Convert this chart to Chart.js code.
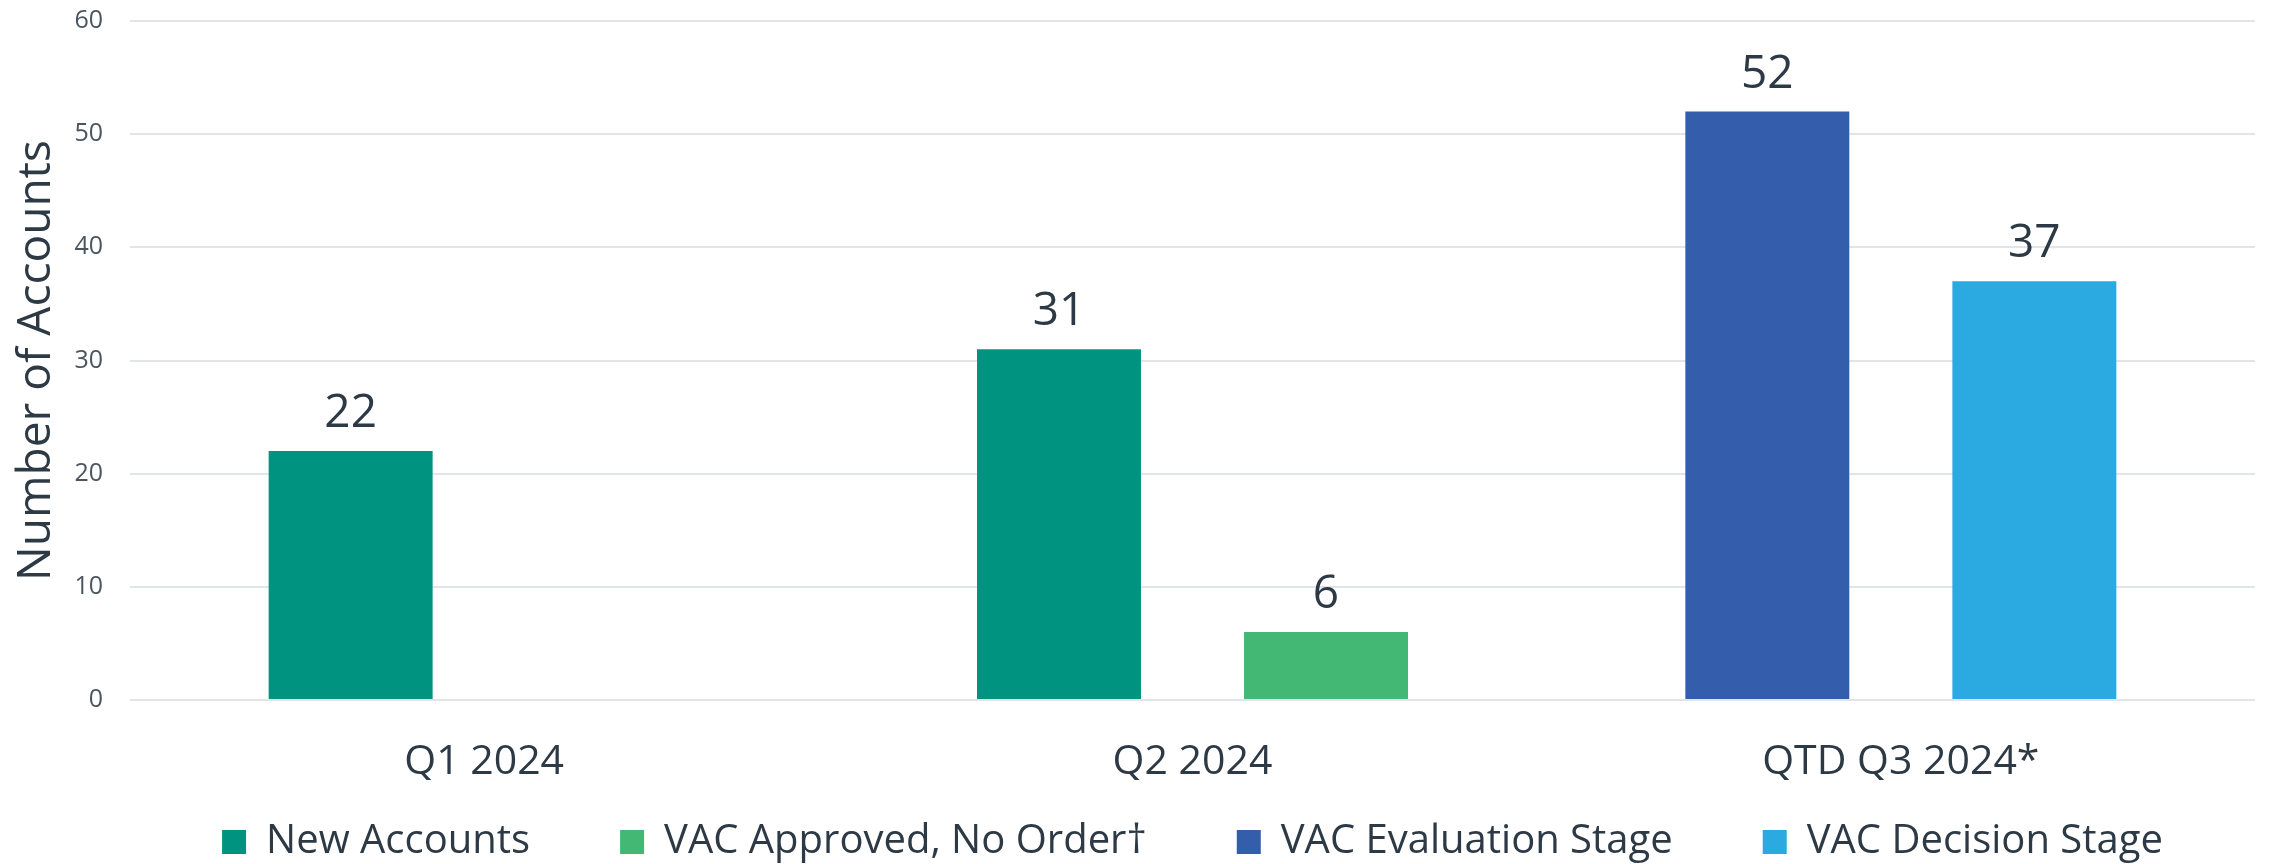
<!DOCTYPE html>
<html>
<head>
<meta charset="utf-8">
<script src="https://cdn.jsdelivr.net/npm/chart.js@4.4.1/dist/chart.umd.min.js"></script>
<style>
  html, body { margin: 0; padding: 0; background: #ffffff; }
  #wrap { width: 2272px; height: 864px; }
</style>
</head>
<body>
<div id="wrap"><canvas id="chart"></canvas></div>
<script>
// chart values
const categories = ['Q1 2024', 'Q2 2024', 'QTD Q3 2024*'];
const newAccounts = [22, 31, null];
const vacApproved = [null, 6, null];
const vacEvaluation = [null, null, 52];
const vacDecision = [null, null, 37];
const yMax = 60;
const yStep = 10;

const textColor = '#2d3a45';
const fontFamily = '"Open Sans", sans-serif';

// value labels above each bar
const barLabels = {
    id: 'barLabels',
    afterDatasetsDraw(chart) {
        const ctx = chart.ctx;
        ctx.save();
        ctx.font = '46px ' + fontFamily;
        ctx.fillStyle = textColor;
        ctx.textAlign = 'center';
        ctx.textBaseline = 'alphabetic';
        chart.data.datasets.forEach(function(ds, i){
            chart.getDatasetMeta(i).data.forEach(function(bar, j){
                const v = ds.data[j];
                if (v === null) return;
                ctx.fillText(String(v), bar.x, bar.y - 24);
            });
        });
        ctx.restore();
    }
};

// legend: keep its box short for layout, then pull it up under the category labels
const legendPlace = {
    id: 'legendPlace',
    beforeLayout(chart) {
        const lg = chart.legend;
        if (lg && !lg._patched) {
            const fit = lg.fit;
            lg.fit = function(){
                fit.call(this);
                this.height = 84;
            };
            lg._patched = true;
        }
    },
    afterLayout(chart) {
        const lg = chart.legend;
        if (!lg) return;
        lg.top = 732;
        lg.bottom = chart.height;
        lg.height = lg.bottom - lg.top;
    }
};

document.addEventListener('DOMContentLoaded', function(){

    const ctx = document.getElementById('chart');

    new Chart(ctx, {
        type: 'bar',
        data: {
            labels: categories,
            datasets: [
                { label: 'New Accounts', data: newAccounts, backgroundColor: '#009480', stack: 'left' },
                { label: 'VAC Approved, No Order\u2020', data: vacApproved, backgroundColor: '#43b874', stack: 'right' },
                { label: 'VAC Evaluation Stage', data: vacEvaluation, backgroundColor: '#345dab', stack: 'left' },
                { label: 'VAC Decision Stage', data: vacDecision, backgroundColor: '#2ba9e1', stack: 'right' }
            ]
        },
        options: {
            responsive: true,
            maintainAspectRatio: false,
            animation: false,
            categoryPercentage: 0.754,
            barPercentage: 0.614,
            layout: { padding: { top: 21, right: 17, left: 0, bottom: 0 } },
            plugins: {
                tooltip: { enabled: false },
                legend: {
                    position: 'bottom',
                    fullSize: false,
                    labels: {
                        color: textColor,
                        font: { family: fontFamily, size: 40 },
                        boxWidth: 24,
                        boxHeight: 24,
                        padding: 90
                    }
                }
            },
            scales: {
                x: {
                    grid: { display: false },
                    border: { display: false },
                    ticks: {
                        color: textColor,
                        font: { family: fontFamily, size: 41 },
                        padding: 30
                    },
                    afterFit: function(s){ s.height = 80; }
                },
                y: {
                    min: 0,
                    max: yMax,
                    stacked: false,
                    border: { display: false },
                    grid: {
                        color: '#e1e4e8',
                        lineWidth: 2,
                        drawTicks: true,
                        tickLength: 27,
                        tickColor: 'rgba(0,0,0,0)'
                    },
                    ticks: {
                        stepSize: yStep,
                        color: '#4b5560',
                        font: { family: fontFamily, size: 25 },
                        padding: 0
                    },
                    title: {
                        display: true,
                        text: 'Number of Accounts',
                        color: textColor,
                        font: { family: fontFamily, size: 46 },
                        padding: { top: 9, bottom: 0 }
                    },
                    afterFit: function(s){ s.width = 130; }
                }
            }
        },
        plugins: [barLabels, legendPlace]
    });

});
</script>
</body>
</html>
